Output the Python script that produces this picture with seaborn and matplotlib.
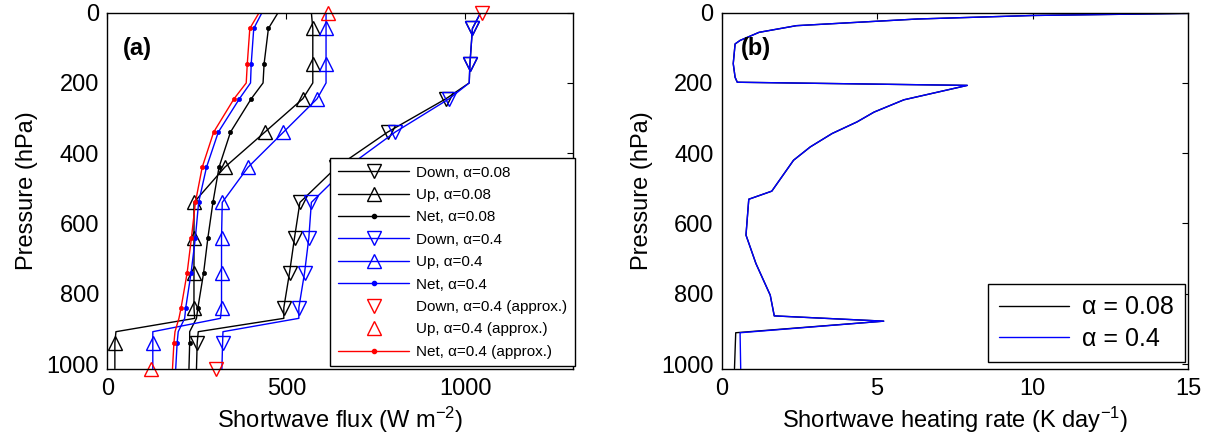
import numpy as np
import pandas as pd
import matplotlib
matplotlib.use("Agg")
import matplotlib.pyplot as plt
import seaborn as sns
from matplotlib.lines import Line2D

# ---------------- data ----------------
p_flux = [0, 45, 145, 200, 245, 340, 440, 540, 640, 740, 840, 870, 908, 940, 1013]
mark_idx = [1, 2, 4, 5, 6, 7, 8, 9, 10, 13]

down_008 = [1043, 1020, 1013, 1011, 946, 783, 640, 538, 523, 509, 493, 493, 254, 251, 249]
up_008 = [570, 574, 574, 574, 546, 440, 328, 242, 242, 242, 242, 244, 24, 21, 21]
net_008 = [477, 450, 438, 435, 402, 344, 312, 295, 281, 269, 253, 249, 230, 230, 228]
down_04 = [1043, 1020, 1013, 1011, 955, 804, 670, 570, 563, 551, 535, 535, 323, 322, 320]
up_04 = [611, 611, 611, 611, 586, 492, 393, 321, 319, 319, 319, 316, 127, 127, 127]
net_04 = [432, 409, 402, 400, 369, 310, 277, 255, 246, 234, 219, 216, 198, 195, 191]
net_approx = [424, 398, 391, 388, 354, 297, 265, 246, 235, 223, 206, 200, 189, 186, 182]

p_approx = [0, 1013]
down_approx = [1046, 303]
up_approx = [616, 121]

p_heat = [0, 2, 8, 18, 37, 56, 79, 89, 145, 184, 198, 207, 248, 283, 311, 344,
          382, 420, 508, 531, 633, 714, 804, 863, 878, 911, 1013]
heat_008 = [30, 15, 10, 6.3, 2.4, 1.2, 0.59, 0.43, 0.37, 0.43, 0.5, 7.9, 5.86, 4.9,
            4.35, 3.55, 2.85, 2.31, 1.61, 0.87, 0.78, 1.10, 1.56, 1.69, 5.21, 0.45, 0.41]
heat_04 = [30, 15, 10, 6.3, 2.4, 1.2, 0.59, 0.43, 0.37, 0.43, 0.5, 7.9, 5.86, 4.9,
           4.35, 3.55, 2.85, 2.31, 1.61, 0.87, 0.78, 1.10, 1.56, 1.69, 5.21, 0.59, 0.61]

flux_ticks = [0, 500, 1000]
heat_ticks = [0, 5, 10, 15]
p_ticks = [0, 200, 400, 600, 800, 1000]

# ---------------- style ----------------
sns.set_theme(style="white")
plt.rcParams['font.family'] = ['Liberation Sans', 'DejaVu Sans']
plt.rcParams['mathtext.fontset'] = 'custom'
plt.rcParams['mathtext.rm'] = 'Liberation Sans'
plt.rcParams['mathtext.it'] = 'Liberation Sans:italic'
plt.rcParams['mathtext.default'] = 'regular'
plt.rcParams.update({'text.color': 'black', 'axes.labelcolor': 'black',
                     'xtick.color': 'black', 'ytick.color': 'black',
                     'axes.edgecolor': 'black'})

FS = 17
BLUE = (0, 0, 1)
RED = (1, 0, 0)
BLACK = (0, 0, 0)

fig = plt.figure(figsize=(12.13, 4.43), dpi=100)
ax1 = fig.add_axes([0.0885, 0.1664, 0.3836, 0.805])
ax2 = fig.add_axes([0.595, 0.1664, 0.3844, 0.805])

MS = 10
LW = 1.0


def flux_line(ax, x, color, marker):
    kw = dict(orient='y', sort=False, estimator=None, color=color, lw=LW, ax=ax)
    if marker == 'o':
        kw.update(marker='o', markersize=3, markevery=mark_idx,
                  markerfacecolor=color, markeredgecolor=color, markeredgewidth=0.5)
    else:
        kw.update(marker=marker, markersize=MS, markevery=mark_idx,
                  markerfacecolor='none', markeredgecolor=color, markeredgewidth=1)
    sns.lineplot(x=x, y=p_flux, **kw)


flux_line(ax1, down_008, BLACK, 'v')
flux_line(ax1, up_008, BLACK, '^')
flux_line(ax1, net_008, BLACK, 'o')
flux_line(ax1, down_04, BLUE, 'v')
flux_line(ax1, up_04, BLUE, '^')
flux_line(ax1, net_04, BLUE, 'o')
flux_line(ax1, net_approx, RED, 'o')

for xs, mk in [(down_approx, 'v'), (up_approx, '^')]:
    sns.lineplot(x=xs, y=p_approx, orient='y', sort=False, estimator=None,
                 linestyle='none', marker=mk, markersize=MS, markerfacecolor='none',
                 markeredgecolor=RED, markeredgewidth=1, color=RED, clip_on=False, ax=ax1)

ax1.set_xlim(0, 1300)
ax1.set_ylim(1015, 0)
ax1.set_xticks(flux_ticks)
ax1.set_yticks(p_ticks)
ax1.set_xlabel('Shortwave flux (W m$^{-2}$)', fontsize=FS, labelpad=4)
ax1.set_ylabel('Pressure (hPa)', fontsize=FS, labelpad=6)
ax1.text(0.034, 0.90, '(a)', transform=ax1.transAxes, fontsize=FS,
         fontweight='bold', va='center', ha='left')

labels = ['Down, \u03b1=0.08', 'Up, \u03b1=0.08', 'Net, \u03b1=0.08',
          'Down, \u03b1=0.4', 'Up, \u03b1=0.4', 'Net, \u03b1=0.4',
          'Down, \u03b1=0.4 (approx.)', 'Up, \u03b1=0.4 (approx.)', 'Net, \u03b1=0.4 (approx.)']


def proxy(color, marker, ls='-'):
    if marker == 'o':
        return Line2D([], [], color=color, lw=LW, ls=ls, marker='o', markersize=3,
                      markerfacecolor=color, markeredgecolor=color)
    return Line2D([], [], color=color, lw=LW, ls=ls, marker=marker, markersize=MS,
                  markerfacecolor='none', markeredgecolor=color, markeredgewidth=1)


handles = [proxy(BLACK, 'v'), proxy(BLACK, '^'), proxy(BLACK, 'o'),
           proxy(BLUE, 'v'), proxy(BLUE, '^'), proxy(BLUE, 'o'),
           proxy(RED, 'v', 'none'), proxy(RED, '^', 'none'), proxy(RED, 'o')]
leg1 = ax1.legend(handles, labels, loc='upper left', bbox_to_anchor=(0.4785, 0.5925),
                  fontsize=11, numpoints=1, handlelength=4.7, handletextpad=0.45,
                  labelspacing=0.55, borderpad=0.5, borderaxespad=0, frameon=True,
                  fancybox=False, edgecolor='black', framealpha=1)
leg1.get_frame().set_linewidth(1.0)

# ---------------- panel b ----------------
sns.lineplot(x=heat_008, y=p_heat, orient='y', sort=False, estimator=None,
             color=BLACK, lw=LW, ax=ax2, label='\u03b1 = 0.08')
sns.lineplot(x=heat_04, y=p_heat, orient='y', sort=False, estimator=None,
             color=BLUE, lw=LW, ax=ax2, label='\u03b1 = 0.4')
ax2.set_xlim(0, 15)
ax2.set_ylim(1015, 0)
ax2.set_xticks(heat_ticks)
ax2.set_yticks(p_ticks)
ax2.set_xlabel('Shortwave heating rate (K day$^{-1}$)', fontsize=FS, labelpad=4)
ax2.set_ylabel('Pressure (hPa)', fontsize=FS, labelpad=6)
ax2.text(0.04, 0.90, '(b)', transform=ax2.transAxes, fontsize=FS,
         fontweight='bold', va='center', ha='left')
leg2 = ax2.legend(loc='lower right', bbox_to_anchor=(0.9935, 0.02), fontsize=18,
                  handlelength=2.8, handletextpad=0.5, labelspacing=0.3,
                  borderpad=0.45, borderaxespad=0, frameon=True, fancybox=False,
                  edgecolor='black', framealpha=1)
leg2.get_frame().set_linewidth(1.0)

for ax in (ax1, ax2):
    for s in ax.spines.values():
        s.set_color('black')
        s.set_linewidth(1.0)
    ax.tick_params(direction='in', top=True, right=True, length=4, width=0.8,
                   labelsize=FS, colors='black', pad=6)
    ax.grid(False)

fig.savefig('out.png', dpi=100, facecolor='white')
